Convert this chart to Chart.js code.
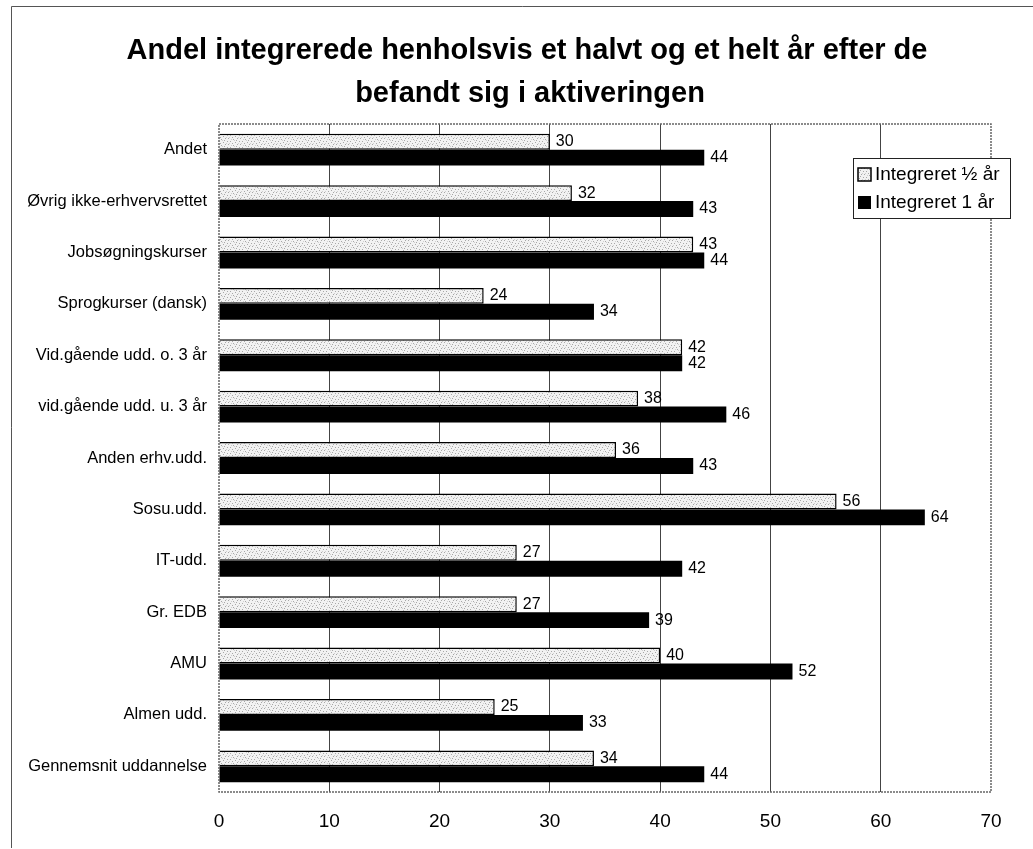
<!DOCTYPE html>
<html>
<head>
<meta charset="utf-8">
<script src="https://cdn.jsdelivr.net/npm/chart.js@4/dist/chart.umd.min.js"></script>
<style>
html,body{margin:0;padding:0;background:#fff;}
#wrap{width:1033px;height:849px;position:relative;}
</style>
</head>
<body>
<div id="wrap"><canvas id="c" width="1033" height="849"></canvas></div>
<script>
const titleLines = ["Andel integrerede henholsvis et halvt og et helt år efter de", "befandt sig i aktiveringen"];
const categories = ["Andet","Øvrig ikke-erhvervsrettet","Jobsøgningskurser","Sprogkurser (dansk)","Vid.gående udd. o. 3 år","vid.gående udd. u. 3 år","Anden erhv.udd.","Sosu.udd.","IT-udd.","Gr. EDB","AMU","Almen udd.","Gennemsnit uddannelse"];
const seriesNames = ["Integreret ½ år","Integreret 1 år"];
const halfYear = [30,32,43,24,42,38,36,56,27,27,40,25,34];
const oneYear = [44,43,44,34,42,46,43,64,42,39,52,33,44];
const xTicks = [0,10,20,30,40,50,60,70];

const FONT = "'Liberation Sans', Arial, sans-serif";

// speckled light pattern (deterministic)
function makePattern(){
  const pc = document.createElement('canvas');
  pc.width = 12; pc.height = 6;
  const p = pc.getContext('2d');
  p.fillStyle = '#f2f2f2'; p.fillRect(0,0,12,6);
  p.fillStyle = '#a8a8a8';
  const dots = [[0,0],[5,1],[9,0],[2,3],[7,4],[11,3],[4,5],[8,2]];
  dots.forEach(d=>p.fillRect(d[0],d[1],1,1));
  p.fillStyle = '#cfcfcf';
  [[3,1],[10,5],[6,2],[1,5]].forEach(d=>p.fillRect(d[0],d[1],1,1));
  return document.getElementById('c').getContext('2d').createPattern(pc,'repeat');
}
const lightFill = makePattern();

const framePlugin = {
  id:'frame',
  beforeDraw(chart){
    const ctx = chart.ctx;
    ctx.save();
    ctx.fillStyle = '#fff';
    ctx.fillRect(0,0,chart.width,chart.height);
    ctx.strokeStyle = '#555';
    ctx.lineWidth = 1;
    ctx.beginPath();
    ctx.moveTo(11.5,848); ctx.lineTo(11.5,6.5); ctx.lineTo(1033,6.5);
    ctx.stroke();
    // title
    ctx.fillStyle = '#000';
    ctx.font = "bold 29px " + FONT;
    ctx.textAlign = 'center';
    ctx.textBaseline = 'middle';
    ctx.fillText(titleLines[0], 527, 51);
    ctx.fillText(titleLines[1], 530, 94);
    ctx.restore();
  },
  afterDraw(chart){
    const ctx = chart.ctx;
    const a = chart.chartArea;
    ctx.save();
    // plot area border (dotted)
    ctx.strokeStyle = '#666';
    ctx.lineWidth = 1.5;
    ctx.setLineDash([2,1]);
    ctx.strokeRect(a.left, a.top, a.right-a.left, a.bottom-a.top);
    ctx.setLineDash([]);
    // legend
    const lx = 853, ly = 158, lw = 157, lh = 60;
    ctx.fillStyle = '#fff';
    ctx.fillRect(lx, ly, lw, lh);
    ctx.strokeStyle = '#222';
    ctx.lineWidth = 1;
    ctx.strokeRect(lx+0.5, ly+0.5, lw, lh);
    ctx.font = "19px " + FONT;
    ctx.textBaseline = 'middle';
    ctx.textAlign = 'left';
    // swatch 1
    ctx.fillStyle = lightFill;
    ctx.fillRect(858, 168, 13, 13);
    ctx.strokeStyle = '#000';
    ctx.lineWidth = 1.5;
    ctx.strokeRect(858, 168, 13, 13);
    ctx.fillStyle = '#000';
    ctx.fillText(seriesNames[0], 875, 175);
    ctx.fillRect(858, 196, 13, 13);
    ctx.fillText(seriesNames[1], 875, 203);
    ctx.restore();
  },
  afterDatasetsDraw(chart){
    const ctx = chart.ctx;
    ctx.save();
    ctx.font = "16px " + FONT;
    ctx.fillStyle = '#000';
    ctx.textAlign = 'left';
    ctx.textBaseline = 'middle';
    chart.data.datasets.forEach((ds,i)=>{
      chart.getDatasetMeta(i).data.forEach((bar,j)=>{
        ctx.fillText(String(ds.data[j]), bar.x + 6, bar.y);
      });
    });
    ctx.restore();
  }
};

new Chart(document.getElementById('c'), {
  type:'bar',
  data:{
    labels: categories,
    datasets:[
      {label:seriesNames[0], data:halfYear, backgroundColor:lightFill, borderColor:'#000', borderWidth:1.5, borderSkipped:'left', categoryPercentage:0.62, barPercentage:1.0},
      {label:seriesNames[1], data:oneYear, backgroundColor:'#000', borderWidth:0, categoryPercentage:0.62, barPercentage:1.0}
    ]
  },
  options:{
    indexAxis:'y',
    responsive:false,
    animation:false,
    events:[],
    layout:{padding:{left:8, right:42, top:124, bottom:16}},
    plugins:{legend:{display:false}, title:{display:false}, tooltip:{enabled:false}},
    scales:{
      x:{
        min:0, max:70,
        afterBuildTicks(s){ s.ticks = xTicks.map(v=>({value:v})); },
        afterFit(s){ s.height = 41; },
        grid:{
          drawTicks:false,
          color:(c)=> (c.tick && (c.tick.value===0 || c.tick.value===70)) ? 'rgba(0,0,0,0)' : '#444',
          lineWidth:1
        },
        border:{display:false},
        ticks:{padding:18, color:'#000', font:{family:FONT, size:19}}
      },
      y:{
        afterFit(s){ s.width = 211; },
        grid:{display:false, drawTicks:false},
        border:{display:false},
        ticks:{padding:12, color:'#000', font:{family:FONT, size:16.5}}
      }
    }
  },
  plugins:[framePlugin]
});
</script>
</body>
</html>
